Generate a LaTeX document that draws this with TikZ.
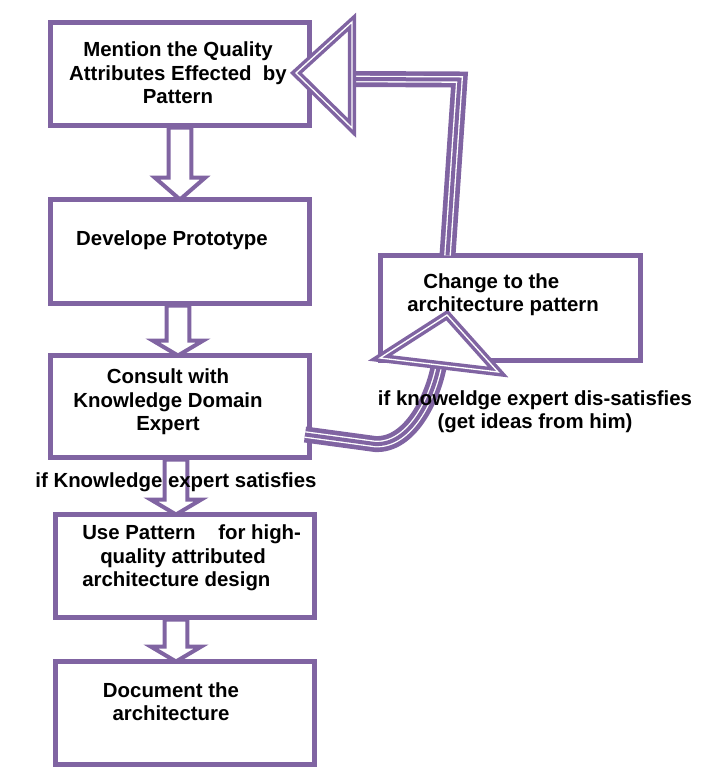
\documentclass[tikz,border=0pt]{standalone}
\usepackage{fontspec}
\setmainfont{Liberation Sans}
\usetikzlibrary{calc}
\definecolor{pur}{HTML}{8064A2}
\tikzset{
  box/.style={draw=pur, line width=3.75pt, minimum width=194.25pt, minimum height=77.25pt, inner sep=0pt, outer sep=0pt},
  txt/.style={font=\bfseries\fontsize{15.3pt}{17.5pt}\selectfont, text=black, inner sep=0pt, align=center},
  blk/.style={draw=pur, line width=3pt, fill=white, line join=miter},
  shaftA/.style={draw=pur, line width=12pt, line join=miter},
  shaftB/.style={draw=white, line width=5pt, line join=miter},
  shaftC/.style={draw=pur, line width=3pt, line join=miter},
  headst/.style={draw=pur, line width=2.6pt, double=white, double distance=1pt, line join=miter, fill=white},
}
\newcommand\blockdown[4]{%
  \draw[blk] let \p1=($(#1.south)+(#3,0)$), \p2=(#2.north) in
    (\x1-8.5pt,\y1-1.5pt) -- (\x1-8.5pt,\y2+#4) -- (\x1-19pt,\y2+#4) -- (\x1,\y2)
    -- (\x1+19pt,\y2+#4) -- (\x1+8.5pt,\y2+#4) -- (\x1+8.5pt,\y1-1.5pt) -- cycle;}
\begin{document}
\begin{tikzpicture}[x=0.75pt, y=-0.75pt]
\useasboundingbox (0,0) rectangle (719,774);

% boxes
\node[box] (b1) at (180,74) {};
\node[box, minimum height=78pt] (b2) at (180,251.5) {};
\node[box, minimum height=76.5pt] (b3) at (180,406.5) {};
\node[box] (b4) at (185,566) {};
\node[box] (b5) at (185,713) {};
\node[box, minimum width=195pt, minimum height=78.75pt] (b6) at (510.5,308) {};

% straight block arrows
\blockdown{b1}{b2}{0}{16.5pt}
\blockdown{b2}{b3}{-2}{11.25pt}
\blockdown{b3}{b4}{-4}{11.25pt}
\blockdown{b4}{b5}{-9}{11.25pt}

% back arrow: Change -> Mention
\def\backpath{($(b6.north west)+(67,0)$) -- ($(b6.north west)+(79,-176)$) -- ($(b1.east)+(42.5,5)$)}
\draw[shaftA] \backpath;
\draw[shaftB] \backpath;
\draw[shaftC] \backpath;
\draw[headst] ($(b1.east)+(-13.5,-1)$) -- ($(b1.east)+(42.5,-52)$) -- ($(b1.east)+(42.5,54)$) -- cycle;

% curved arrow: Consult -> Change
\def\curvepath{($(b3.east)+(-4.5,28)$) -- ($(b3.east)+(65.5,37.5)$) .. controls (410,446) and (433,398) .. ($(b6.south west)+(58.5,4.5)$)}
\draw[shaftA] \curvepath;
\draw[shaftB] \curvepath;
\draw[shaftC] \curvepath;
\draw[headst] ($(b6.south west)+(66.5,-45.5)$) -- ($(b6.south west)+(-0.5,-2.5)$) -- ($(b6.south west)+(117.5,11.5)$) -- cycle;

% texts
\node[txt] (t1) at (178,73) {Mention the Quality\\Attributes Effected\ \ by\\Pattern};
\node[txt] (t2) at (172,240) {Develope Prototype};
\node[txt] (t3) at (168,402) {Consult with\\Knowledge Domain\\Expert};
\node[txt, align=left, anchor=west] (t4) at (82,558) {Use Pattern\ \ \ \ for high-\\\hspace*{13.5pt}quality attributed\\architecture design};
\node[txt] (t5) at (171,701.5) {Document the\\architecture};
\node[txt, align=left, anchor=west] (t6) at (407,294.5) {\hspace*{12pt}Change to the\\architecture pattern};
\node[txt] (l1) at (535,411.5) {if knoweldge expert dis-satisfies\\(get ideas from him)};
\node[txt] (l2) at (176,482) {if Knowledge expert satisfies};
\end{tikzpicture}
\end{document}
